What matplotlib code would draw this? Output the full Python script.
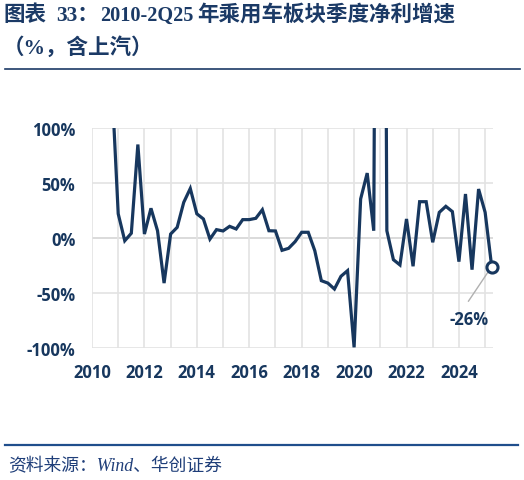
import matplotlib
matplotlib.use("Agg")
import matplotlib.pyplot as plt
from matplotlib.ticker import MultipleLocator, FuncFormatter
from matplotlib.lines import Line2D

# ---- data (quarterly net profit growth, %) ----
years = list(range(2010, 2026))
quarters = [1, 2, 3, 4]
growth = [
    350, 260, 180, 144,      # 2010
    22, -2.5, 4.3, 85,       # 2011
    3.6, 27, 6.6, -41,       # 2012
    3.6, 9.7, 32.4, 45,      # 2013
    22, 17.3, -1, 7.6,       # 2014
    6.4, 10.6, 8.2, 16.7,    # 2015
    16.7, 17.9, 25.7, 6.6,   # 2016
    6.4, -11.2, -9.4, -3.3,  # 2017
    5.2, 5.2, -11.5, -38.8,  # 2018
    -41, -46.4, -34.8, -29.7,  # 2019
    -99.4, 35.5, 59, 6.6,    # 2020
    1200, 6.6, -19.7, -24.5,  # 2021
    17.3, -25.7, 33, 33,     # 2022
    -3.9, 23.3, 28.8, 24,    # 2023
    -21.5, 40, -28.8, 44.5,  # 2024
    23.3, -26,               # 2025
]
x_pos = [y + (q - 1) / 4 for y in years for q in quarters][:len(growth)]
last_label = "-26%"
yticks = [-100, -50, 0, 50, 100]

title_parts = ["图表", "33：", "2010-2Q25", "年乘用车板块季度净利增速"]
title_line2 = "（%，含上汽）"
source_text = "资料来源：Wind、华创证券"

NAVY = "#17375E"
TITLE_C = "#1B3A66"

fig = plt.figure(figsize=(5.24, 4.81), dpi=100)
W, H = 524, 481
ax = fig.add_axes([92 / W, 1 - 349 / H, (493 - 92) / W, (349 - 129) / H])

ax.plot(x_pos, growth, color=NAVY, lw=2.3, solid_joinstyle="miter", zorder=3)
ax.plot([x_pos[-1]], [growth[-1]], marker="o", ms=8, mfc="white", mec=NAVY,
        mew=2.2, zorder=4, clip_on=False)

ax.annotate("", xy=(x_pos[-1], growth[-1]), xytext=(-16.8, -25),
            textcoords="offset points",
            arrowprops=dict(arrowstyle="-", color="#b0b0b0", lw=1,
                            shrinkA=0, shrinkB=5))
ax.annotate(last_label, xy=(x_pos[-1], growth[-1]), xytext=(-16.3, -38),
            textcoords="offset points", ha="center", va="center",
            fontsize=12, fontweight="bold", family="Open Sans", color=NAVY)

ax.set_xlim(2010, 2025.3)
ax.set_ylim(-100, 100)
ax.set_yticks(yticks)
ax.yaxis.set_major_formatter(FuncFormatter(lambda v, p: f"{int(v)}%"))
ax.xaxis.set_major_locator(MultipleLocator(2))
ax.xaxis.set_minor_locator(MultipleLocator(1))

ax.grid(True, which="both", axis="x", color="#e3e3e3", lw=1.2, zorder=0)
ax.grid(True, which="major", axis="y", color="#e3e3e3", lw=1.2, zorder=0)
ax.axhline(0, color="#a8a8a8", lw=1.2, zorder=1)
for s in ax.spines.values():
    s.set_visible(False)
ax.tick_params(axis="both", which="both", length=0)
ax.tick_params(axis="y", pad=12)
ax.tick_params(axis="x", pad=11)
for lab in ax.get_xticklabels() + ax.get_yticklabels():
    lab.set_fontfamily("Open Sans")
    lab.set_fontweight("bold")
    lab.set_fontsize(12)
    lab.set_color(NAVY)

title_fam = ["Liberation Serif", "Noto Sans CJK SC"]
renderer = fig.canvas.get_renderer()


def fit_width(txt, target_px):
    w = txt.get_window_extent(renderer).width
    if w > 0:
        txt.set_fontsize(txt.get_fontsize() * target_px / w)


# title line 1, pieces at reference left positions (px)
piece_left = [3, 56, 100, 197]
texts = []
for text, left in zip(title_parts, piece_left):
    t = fig.text(left / W, 1 - 15.5 / H, text, family=title_fam,
                 fontweight="bold", fontsize=15.3, color=TITLE_C,
                 va="center", ha="left")
    texts.append(t)
fit_width(texts[-1], 258)
fs_title = texts[-1].get_fontsize()
texts[0].set_fontsize(fs_title)
texts[1].set_fontsize(fs_title)
fit_width(texts[2], 93)

t2 = fig.text(3 / W, 1 - 47.5 / H, title_line2, family=title_fam,
              fontweight="bold", fontsize=fs_title, color=TITLE_C,
              va="center", ha="left")

fig.add_artist(Line2D([5 / W, 520 / W], [1 - 69.5 / H, 1 - 69.5 / H],
                      color=TITLE_C, lw=1.2))
fig.add_artist(Line2D([5 / W, 518 / W], [1 - 445.5 / H, 1 - 445.5 / H],
                      color="#1F4E8C", lw=1.6))
ts = fig.text(8 / W, 1 - 467 / H, source_text, family=title_fam,
              style="italic", fontsize=12, color="#1F3E79",
              va="center", ha="left")
fit_width(ts, 214)

fig.savefig("out.png", dpi=100)
